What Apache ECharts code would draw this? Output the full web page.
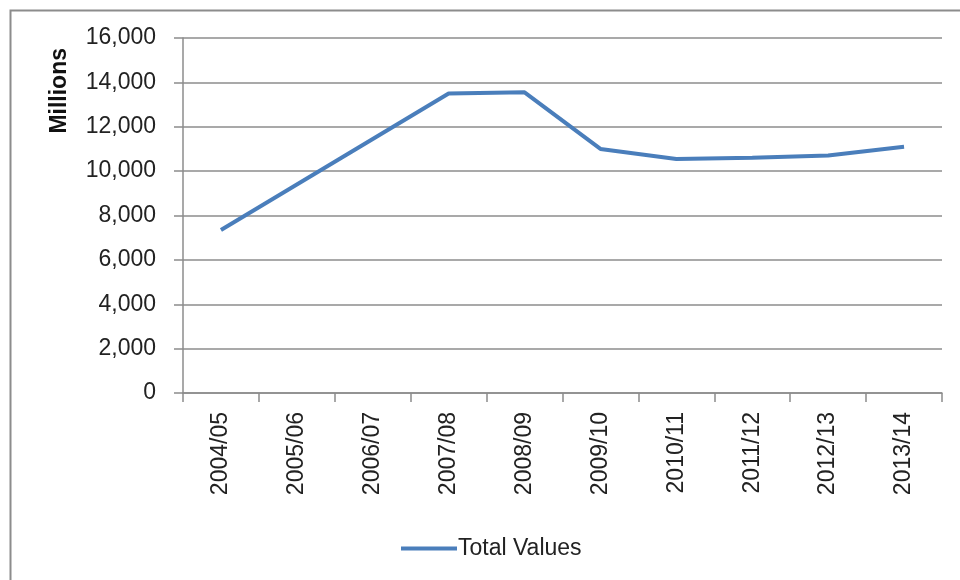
<!DOCTYPE html>
<html>
<head>
<meta charset="utf-8">
<script src="https://cdn.jsdelivr.net/npm/echarts@6/dist/echarts.min.js"></script>
<style>html,body{margin:0;padding:0;background:#fff}#c{width:960px;height:580px}</style>
</head>
<body>
<div id="c"></div>
<script>
const categories = ['2004/05','2005/06','2006/07','2007/08','2008/09','2009/10','2010/11','2011/12','2012/13','2013/14'];
const totalValues = [7350, 9400, 11450, 13500, 13550, 11000, 10550, 10600, 10700, 11100];
const seriesName = 'Total Values';
const yAxisName = 'Millions';

const chart = echarts.init(document.getElementById('c'), null, {renderer:'canvas'});
const font = 'Liberation Sans';
chart.setOption({
  animation: false,
  backgroundColor: '#fff',
  graphic: [{
    type: 'rect', left: 8, top: 8, z: -1,
    shape: {width: 1000, height: 600},
    style: {fill: 'none', stroke: '#8c8c8c', lineWidth: 2}
  }],
  grid: {left: 183, right: 18, top: 38, bottom: 187, containLabel: false, outerBoundsMode: 'none'},
  legend: {
    left: 396, top: 532,
    itemWidth: 56, itemHeight: 4, itemGap: 0,
    icon: 'rect',
    textStyle: {fontFamily: font, fontSize: 23, color: '#222', padding: [0,0,0,-4]},
    data: [{name: seriesName, icon: 'rect'}]
  },
  xAxis: {
    type: 'category', data: categories, boundaryGap: true,
    axisLine: {lineStyle: {color: '#8c8c8c', width: 1.5}},
    axisTick: {show: true, length: 9, alignWithLabel: false, lineStyle: {color: '#8c8c8c', width: 1.5}},
    axisLabel: {rotate: 90, margin: 19, fontFamily: font, fontSize: 23, color: '#222', interval: 0}
  },
  yAxis: {
    type: 'value', min: 0, max: 16000, interval: 2000,
    name: yAxisName, nameLocation: 'end', nameRotate: 90,
    nameGap: -10,
    nameTextStyle: {fontFamily: font, fontSize: 23, fontWeight: 'bold', color: '#111', align: 'right', verticalAlign: 'bottom', padding: [0,0,112,0]},
    axisLine: {show: true, lineStyle: {color: '#8c8c8c', width: 1.5}},
    axisTick: {show: true, length: 9, lineStyle: {color: '#8c8c8c', width: 1.5}},
    splitLine: {lineStyle: {color: '#8c8c8c', width: 1.5}},
    axisLabel: {margin: 27, fontFamily: font, fontSize: 23, color: '#222',
      formatter: v => v.toLocaleString('en-US')}
  },
  series: [{
    name: seriesName, type: 'line', data: totalValues,
    showSymbol: false, symbol: 'none',
    lineStyle: {color: '#4a7ebb', width: 4},
    itemStyle: {color: '#4a7ebb'}
  }]
});
</script>
</body>
</html>
